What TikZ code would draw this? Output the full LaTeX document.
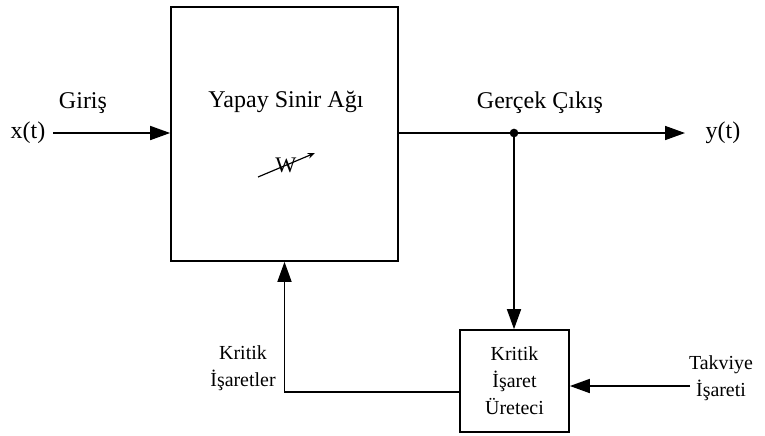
\documentclass[tikz,border=0pt]{standalone}
\usepackage{fontspec}
\setmainfont{Liberation Serif}
\usetikzlibrary{positioning,calc,arrows.meta}

\tikzset{
    sig/.style={line width=1.4pt, -{Triangle[length=0.6cm, width=0.42cm]}},
    blok/.style={draw, line width=1.4pt, inner sep=0pt},
    buyuk/.style={font=\fontsize{20.5}{24}\selectfont},
    kucuk/.style={font=\fontsize{17}{23}\selectfont, align=center},
}

\begin{document}
\begin{tikzpicture}[x=0.03cm, y=-0.03cm]
    \useasboundingbox (0,0) rectangle (765,435);

    % Yapay sinir agi blogu
    \node[blok, minimum width=6.81cm, minimum height=7.62cm] (ysa) at (284.5,134) {};
    \node[buyuk] (ysatxt) at (286,102) {Yapay Sinir Ağı};
    \node[font=\fontsize{19}{22}\selectfont, inner sep=0pt] (w) at (286,165) {W};
    \draw[line width=1pt, -{Stealth[length=0.22cm, width=0.17cm]}] ($(w)+(-28,12)$) -- ($(w)+(29,-12)$);

    % Giris ve cikis
    \node[buyuk] (xt) at (28,133) {x(t)};
    \node[buyuk] (giris) at (83,103) {Giriş};
    \coordinate (xin) at (53,133);
    \draw[sig] (xin) -- (ysa.west |- xin);

    \node[buyuk] (yt) at (723,133) {y(t)};
    \node[buyuk] (gercek) at (540,103) {Gerçek Çıkış};
    \coordinate (dal) at (514,133);
    \coordinate (yout) at (685,133);
    \draw[sig] (ysa.east |- dal) -- (yout);
    \fill (dal) circle (0.13cm);

    % Kritik isaret ureteci
    \node[blok, kucuk, minimum width=3.27cm, minimum height=3.06cm] (kiu) at (514.5,381) {Kritik\\İşaret\\Üreteci};
    \draw[sig] (dal) -- (dal |- kiu.north);

    \node[kucuk] (takviye) at (721,378) {Takviye\\İşareti};
    \coordinate (tin) at (690,386);
    \draw[sig] (tin) -- (kiu.east |- tin);

    % Geri besleme
    \node[kucuk] (kritik) at (243,368) {Kritik\\İşaretler};
    \coordinate (kout) at (460,392);
    \draw[sig] (kout) -| (ysa.south);
\end{tikzpicture}
\end{document}
